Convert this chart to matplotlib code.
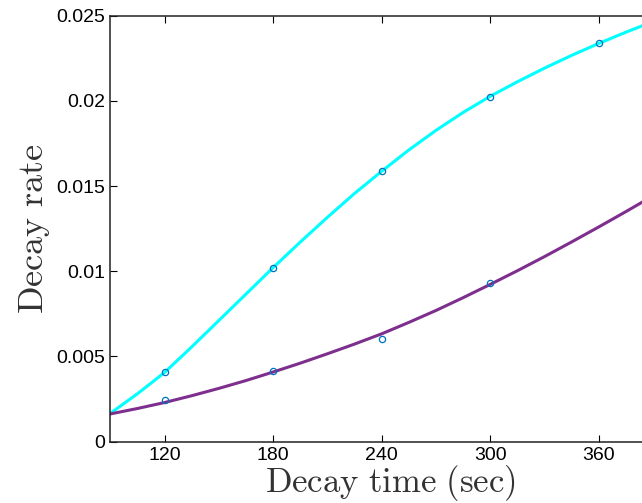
import numpy as np
import matplotlib
matplotlib.use("Agg")
import matplotlib.pyplot as plt

# measured points
t_pts = [120, 180, 240, 300, 360]
rate_fast = [0.00407, 0.01021, 0.01589, 0.02025, 0.02338]
t_pts_slow = [120, 180, 240, 300]
rate_slow = [0.00245, 0.00415, 0.00604, 0.00933]

# fitted curves
t_fit = [90, 105, 120, 135, 150, 165, 180, 195, 210, 225, 240, 255,
         270, 285, 300, 315, 330, 345, 360, 375, 390, 400]
fit_fast = [0.00167, 0.00282, 0.00407, 0.00557, 0.00712, 0.00867, 0.01022,
            0.01172, 0.01317, 0.01457, 0.01587, 0.01712, 0.01827, 0.01932,
            0.02027, 0.02112, 0.02192, 0.02267, 0.02337, 0.02403, 0.02465,
            0.02505]
fit_slow = [0.00163, 0.00195, 0.0023, 0.0027, 0.00313, 0.00359, 0.00409,
            0.00461, 0.00516, 0.00573, 0.00633, 0.007, 0.0077, 0.00845,
            0.00923, 0.01003, 0.01086, 0.01172, 0.0126, 0.0135, 0.01442,
            0.01504]

xticks = [120, 180, 240, 300, 360]
yticks = [0, 0.005, 0.01, 0.015, 0.02, 0.025]
ytick_labels = ['0', '0.005', '0.01', '0.015', '0.02', '0.025']

plt.rcParams['font.family'] = ['Liberation Sans', 'DejaVu Sans']
plt.rcParams['mathtext.fontset'] = 'cm'

fig = plt.figure(figsize=(6.42, 5.03), dpi=100)
ax = fig.add_axes([0.1721, 0.1219, 0.8731, 0.8469])

ax.plot(t_fit, fit_fast, color='#00FFFF', lw=2.2, zorder=2)
ax.plot(t_fit, fit_slow, color='#7E2F8E', lw=2.2, zorder=2)
ax.plot(t_pts, rate_fast, 'o', mfc='none', mec='#0072BD', ms=4.5, mew=0.9, zorder=3)
ax.plot(t_pts_slow, rate_slow, 'o', mfc='none', mec='#0072BD', ms=4.5, mew=0.9, zorder=3)

ax.set_xlim(90, 400)
ax.set_ylim(0, 0.025)
ax.set_xticks(xticks)
ax.set_xticklabels([str(v) for v in xticks])
ax.set_yticks(yticks)
ax.set_yticklabels(ytick_labels)

ax.tick_params(direction='in', length=5, width=0.8, labelsize=14,
               top=True, right=True, pad=4)
for s in ax.spines.values():
    s.set_linewidth(1.1)
    s.set_color('#222222')

ax.set_xlabel(r'$\mathrm{Decay\ time\ (sec)}$', fontsize=25, labelpad=-1, color='#333333')
ax.set_ylabel(r'$\mathrm{Decay\ rate}$', fontsize=26, labelpad=3, color='#333333')

fig.savefig('out.png', dpi=100)
